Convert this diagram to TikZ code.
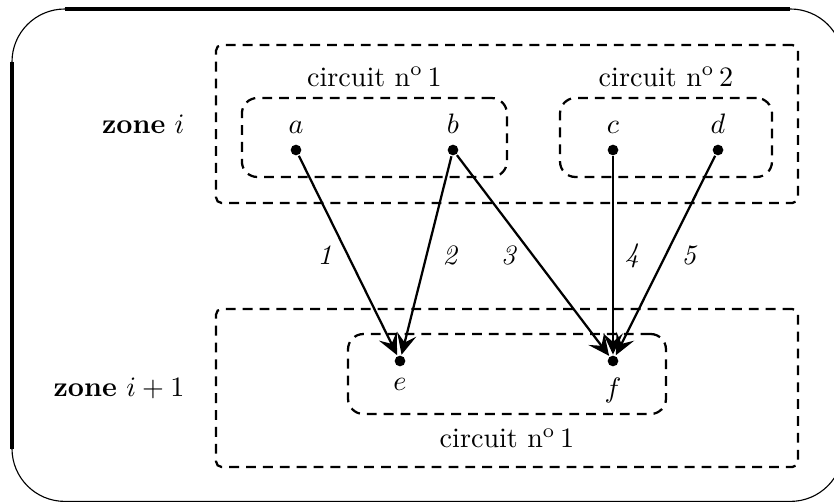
\documentclass[tikz,border=0pt]{standalone}
\usetikzlibrary{arrows.meta,positioning}
\tikzset{every picture/.style={line width=0.8pt}}
\tikzset{
  zone/.style={draw, dash pattern=on 3.5pt off 2.5pt, rounded corners=2pt,
    minimum width=7.275cm, minimum height=1.975cm, inner sep=0pt},
  circuit/.style={draw, dash pattern=on 3.5pt off 2.5pt, rounded corners=5.5pt,
    minimum height=0.9875cm, inner sep=0pt},
  point/.style={circle, fill, inner sep=0pt, minimum size=3.8pt},
  lien/.style={-{Stealth[length=7.5pt,width=7pt,inset=3pt]}},
}

\begin{document}
\begin{tikzpicture}
    \useasboundingbox (0,0) rectangle (10.425,6.2875);
    % cadre
    \draw[line width=0.4pt, rounded corners=0.66cm] (0.15,0.02) rectangle (10.54,6.175);
    \draw[line width=1.2pt] (0.81,6.175) -- (9.88,6.175);
    \draw[line width=1.2pt] (0.15,0.68) -- (0.15,5.515);
    % zones
    \node[zone] (zi) at (6.3375,4.7375) {};
    \node[zone] (zj) at (6.3375,1.4375) {};
    \node[left=0.25cm of zi] (lzi) {\textbf{zone} $i$};
    \node[left=0.25cm of zj] (lzj) {\textbf{zone} $i+1$};
    % circuits
    \node[circuit, minimum width=3.3125cm, label={above:circuit n\textsuperscript{o}\,1}] (c1) at (4.68,4.56875) {};
    \node[circuit, minimum width=2.65cm, label={above:circuit n\textsuperscript{o}\,2}] (c2) at (8.325,4.56875) {};
    \node[circuit, minimum width=3.975cm, minimum height=1cm, label={[label distance=1pt]below:circuit n\textsuperscript{o}\,1}] (c3) at (6.3375,1.6125) {};
    % points
    \node[point, label=above:$a$] (a) at (3.7,4.4125) {};
    \node[point, label=above:$b$] (b) at (5.6625,4.4125) {};
    \node[point, label=above:$c$] (c) at (7.6625,4.4125) {};
    \node[point, label=above:$d$] (d) at (8.975,4.4125) {};
    \node[point, label=below:$e$] (e) at (5.0,1.775) {};
    \node[point, label=below:$f$] (f) at (7.6625,1.775) {};
    % liens
    \draw[lien] (a) -- node[left=2pt] {\textit{1}} (e);
    \draw[lien] (b) -- node[right=2pt] {\textit{2}} (e);
    \draw[lien] (b) -- node[left=2pt] {\textit{3}} (f);
    \draw[lien] (c) -- node[right=0.5pt] {\textit{4}} (f);
    \draw[lien] (d) -- node[right=2pt] {\textit{5}} (f);
\end{tikzpicture}
\end{document}
